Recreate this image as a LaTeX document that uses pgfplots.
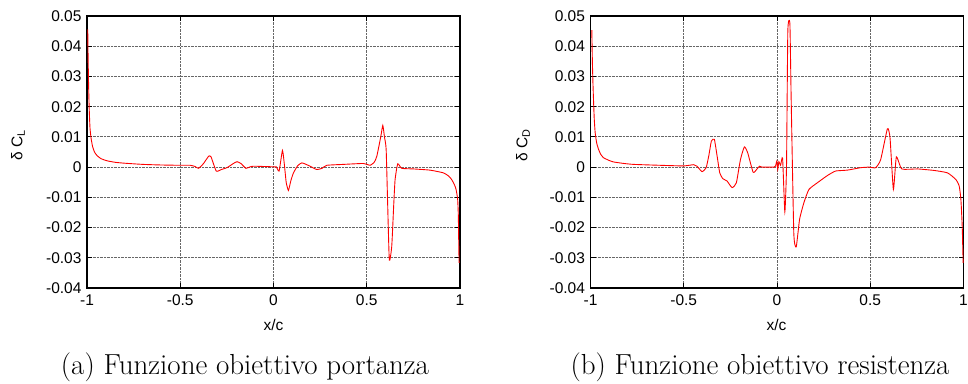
\documentclass[border=0pt]{standalone}
\usepackage{fontspec}
\usepackage{pgfplots}
\pgfplotsset{compat=1.18}
\newfontfamily\hv{Liberation Sans}
\newcommand{\tickfont}{\hv\fontsize{15.5}{17}\selectfont}
\pgfplotsset{
  myax/.style={
    scale only axis, width=373pt, height=272pt, anchor=south west,
    xmin=-1, xmax=1, ymin=-0.04, ymax=0.05,
    scaled y ticks=false, scaled x ticks=false,
    xtick={-1,-0.5,0,0.5,1},
    xticklabels={-1,-0.5,0,0.5,1},
    ytick={-0.04,-0.03,-0.02,-0.01,0,0.01,0.02,0.03,0.04,0.05},
    yticklabels={-0.04,-0.03,-0.02,-0.01,0,0.01,0.02,0.03,0.04,0.05},
    tick label style={font=\tickfont},
    xticklabel style={yshift=-3pt},
    yticklabel style={xshift=-2pt},
    grid=major,
    major grid style={densely dotted, draw=black!60, line width=0.8pt},
    axis line style={line width=1.4pt, black},
    major tick length=5pt,
    every tick/.style={black, line width=0.8pt},
    tick align=inside, tick pos=both,
  }
}
\begin{document}
\begin{tikzpicture}
\useasboundingbox (0,0) rectangle (968pt,383pt);
\begin{axis}[myax, at={(87pt,95pt)}]
\addplot[red, line width=0.9pt, smooth, tension=0.3] coordinates {
(-0.996,0.0456) (-0.994,0.036) (-0.991,0.026) (-0.988,0.019) (-0.984,0.013)
(-0.978,0.0095) (-0.970,0.0068) (-0.960,0.0050) (-0.946,0.0038) (-0.925,0.0028)
(-0.893,0.0021) (-0.85,0.0016) (-0.80,0.0013) (-0.70,0.0009) (-0.60,0.0007)
(-0.50,0.0006) (-0.446,0.0006) (-0.420,0.0002) (-0.402,-0.0004) (-0.375,0.0012)
(-0.348,0.0036) (-0.335,0.0034) (-0.307,-0.0013) (-0.28,-0.0008) (-0.25,-0.0002)
(-0.22,0.0010) (-0.196,0.0018) (-0.175,0.0012) (-0.148,-0.0004) (-0.125,0.0001)
(-0.107,0.0003) (-0.05,0.0002) (0.0,0.0001) (0.015,0.0001) (0.030,-0.0013)
(0.048,0.0055) (0.058,0.0010) (0.068,-0.0050) (0.080,-0.0077) (0.093,-0.0045)
(0.107,-0.0019) (0.13,0.0005) (0.152,0.0014) (0.175,0.0009) (0.196,0.0003)
(0.232,-0.0008) (0.26,-0.0004) (0.286,0.0006) (0.375,0.0009) (0.482,0.0012)
(0.518,0.0006) (0.540,0.0016) (0.554,0.0036) (0.575,0.0100) (0.586,0.0138)
(0.595,0.0100) (0.604,0.0059) (0.612,-0.0120) (0.621,-0.0308) (0.634,-0.0262)
(0.645,-0.0120) (0.652,-0.0041) (0.666,0.0011) (0.6875,-0.0004) (0.75,-0.0006)
(0.839,-0.0010) (0.911,-0.0019) (0.94,-0.0030) (0.955,-0.0041) (0.970,-0.0058)
(0.979,-0.0074) (0.9875,-0.0107) (0.991,-0.0160) (0.993,-0.0240) (0.995,-0.0317)
};
\end{axis}
\begin{axis}[myax, at={(590.5pt,95pt)}]
\addplot[red, line width=0.9pt, smooth, tension=0.3] coordinates {
(-0.993,0.0453) (-0.990,0.035) (-0.987,0.028) (-0.984,0.0224) (-0.980,0.016)
(-0.975,0.0114) (-0.967,0.0080) (-0.957,0.0059) (-0.945,0.0042) (-0.930,0.0031)
(-0.90,0.0022) (-0.876,0.0017) (-0.82,0.0012) (-0.769,0.0009) (-0.626,0.0006)
(-0.5,0.0004) (-0.447,0.0008) (-0.429,0.0003) (-0.402,-0.0015) (-0.380,-0.0002)
(-0.365,0.0040) (-0.352,0.0086) (-0.336,0.0092) (-0.321,0.0036) (-0.307,-0.0019)
(-0.291,-0.0038) (-0.268,-0.0046) (-0.241,-0.0068) (-0.218,-0.0052) (-0.196,0.0025)
(-0.175,0.0067) (-0.157,0.0047) (-0.128,-0.0017) (-0.107,-0.0006) (-0.094,0.0003)
(-0.080,0.0000) (-0.017,0.0000) (-0.008,0.0003) (-0.001,0.0020) (0.004,-0.0008)
(0.010,0.0018) (0.019,0.0006) (0.030,0.0029) (0.042,-0.0148) (0.051,0.0003)
(0.058,0.0450) (0.069,0.0476) (0.076,0.0224) (0.090,-0.0218) (0.103,-0.0264)
(0.121,-0.0173) (0.144,-0.0118) (0.171,-0.0074) (0.216,-0.0052) (0.270,-0.0028)
(0.314,-0.0013) (0.377,-0.0010) (0.448,-0.0002) (0.493,0.0000) (0.529,-0.0002)
(0.556,0.0025) (0.592,0.0127) (0.606,0.0097) (0.624,-0.0074) (0.640,0.0034)
(0.669,-0.0006) (0.753,-0.0006) (0.842,-0.0011) (0.914,-0.0019) (0.959,-0.0041)
(0.977,-0.0063) (0.986,-0.0107) (0.993,-0.0195) (0.998,-0.0317)
};
\end{axis}
\node[rotate=90, font=\tickfont] at (18pt,238pt) {δ C\textsubscript{L}};
\node[rotate=90, font=\tickfont] at (523pt,238pt) {δ C\textsubscript{D}};
\node[font=\tickfont] at (273.5pt,58pt) {x/c};
\node[font=\tickfont] at (776.5pt,58pt) {x/c};
\node[anchor=base, font=\fontsize{29}{34}\selectfont, inner sep=0pt] at (245pt,9pt) {(a) Funzione obiettivo portanza};
\node[anchor=base, font=\fontsize{29}{34}\selectfont, inner sep=0pt] at (760pt,9pt) {(b) Funzione obiettivo resistenza};
\end{tikzpicture}
\end{document}
